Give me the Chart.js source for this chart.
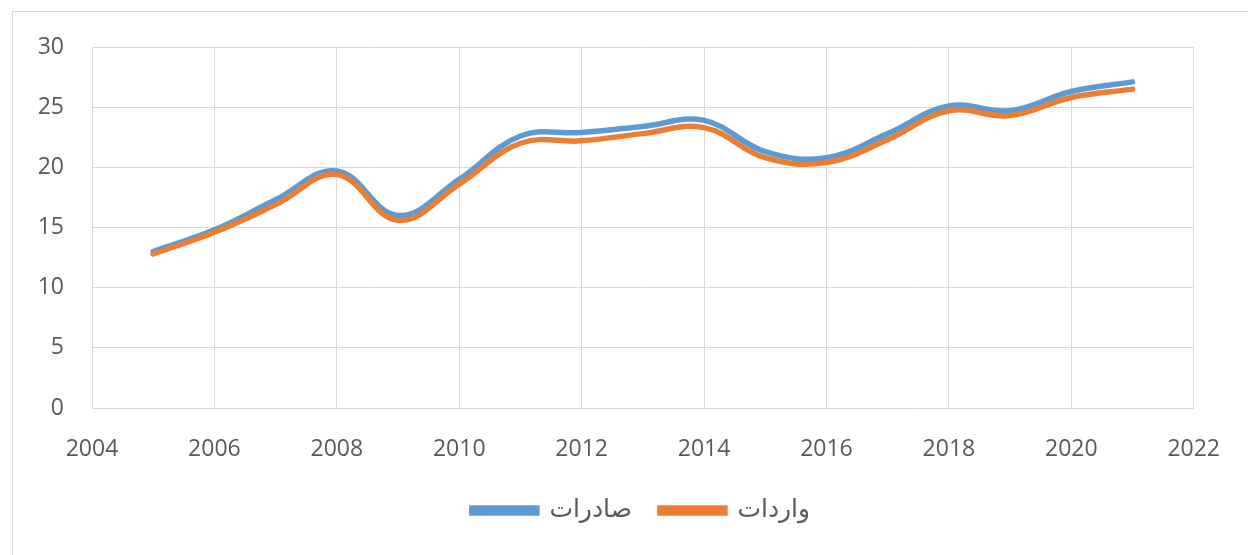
<!DOCTYPE html>
<html>
<head>
<meta charset="utf-8">
<script src="https://cdn.jsdelivr.net/npm/chart.js@4"></script>
<style>
  html, body { margin: 0; padding: 0; background: #fff; overflow: hidden; }
  #wrap { position: relative; width: 1248px; height: 555px; }
  #frame { position: absolute; left: 12px; top: 11px; width: 1260px; height: 560px; border: 1px solid #d9d9d9; box-sizing: border-box; }
  canvas { position: absolute; left: 0; top: 0; }
</style>
</head>
<body>
<div id="wrap">
  <div id="frame"></div>
  <canvas id="c" width="1248" height="555"></canvas>
</div>
<script>
const years = [2005, 2006, 2007, 2008, 2009, 2010, 2011, 2012, 2013, 2014, 2015, 2016, 2017, 2018, 2019, 2020, 2021];
const exportsVals = [13.0, 14.8, 17.3, 19.7, 16.0, 19.0, 22.6, 22.9, 23.4, 23.9, 21.3, 20.8, 22.8, 25.1, 24.7, 26.3, 27.1];
const importsVals = [12.8, 14.6, 16.9, 19.4, 15.6, 18.6, 22.0, 22.2, 22.8, 23.3, 20.8, 20.4, 22.3, 24.7, 24.3, 25.8, 26.5];
const exportsLabel = 'صادرات';
const importsLabel = 'واردات';
const xMin = 2004, xMax = 2022, xStep = 2;
const yMin = 0, yMax = 30, yStep = 5;

const toPts = (vals) => years.map((y, i) => ({ x: y, y: vals[i] }));
const tickFont = { family: "'Open Sans', 'Liberation Sans', 'DejaVu Sans', sans-serif", size: 23 };

new Chart(document.getElementById('c'), {
  type: 'line',
  data: {
    datasets: [
      { label: importsLabel, data: toPts(importsVals), borderColor: '#ED7D31', backgroundColor: '#ED7D31', borderWidth: 5.5, pointRadius: 0, tension: 0.4, fill: false, borderCapStyle: 'round' },
      { label: exportsLabel, data: toPts(exportsVals), borderColor: '#5B9BD5', backgroundColor: '#5B9BD5', borderWidth: 5.5, pointRadius: 0, tension: 0.4, fill: false, borderCapStyle: 'round' }
    ]
  },
  options: {
    responsive: false,
    animation: false,
    layout: { padding: { left: 34, right: 0, top: 47, bottom: 22 } },
    plugins: {
      tooltip: { enabled: false },
      legend: {
        position: 'bottom',
        reverse: true,
        labels: {
          boxWidth: 65,
          boxHeight: 5,
          padding: 28,
          color: '#595959',
          font: { family: "'DejaVu Sans', 'Liberation Sans', sans-serif", size: 25 }
        }
      }
    },
    scales: {
      x: {
        type: 'linear',
        min: xMin, max: xMax,
        afterFit: (s) => { s.height = 62; },
        ticks: { stepSize: xStep, color: '#595959', font: tickFont, padding: 28, callback: (v) => String(v) },
        grid: { color: '#d9d9d9', drawTicks: false, lineWidth: 1 },
        border: { color: '#d9d9d9' }
      },
      y: {
        min: yMin, max: yMax,
        afterFit: (s) => { s.width = 58; },
        ticks: { stepSize: yStep, color: '#595959', font: tickFont, padding: 28 },
        grid: { color: '#d9d9d9', drawTicks: false, lineWidth: 1 },
        border: { color: '#d9d9d9' }
      },
      yRight: {
        position: 'right',
        min: yMin, max: yMax,
        afterFit: (s) => { s.width = 54; },
        ticks: { display: false },
        grid: { display: false, drawTicks: false },
        border: { display: false }
      }
    }
  }
});
</script>
</body>
</html>
